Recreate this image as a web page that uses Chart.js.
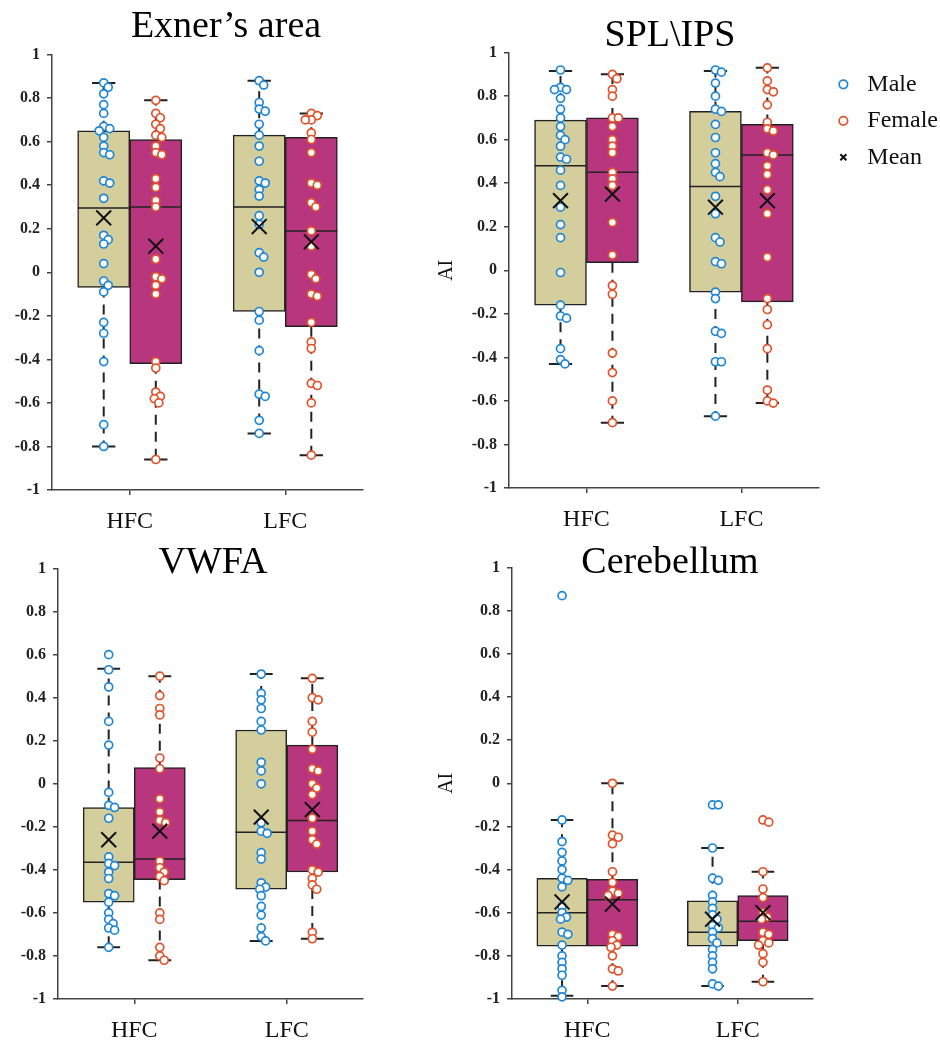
<!DOCTYPE html>
<html>
<head>
<meta charset="utf-8">
<script src="https://cdn.jsdelivr.net/npm/chart.js@4.4.1/dist/chart.umd.min.js"></script>
<style>
  html, body { margin: 0; padding: 0; background: #fff; width: 940px; height: 1046px; overflow: hidden; }
  .panel { position: absolute; }
</style>
</head>
<body>
<div class="panel" style="left:0;top:0;width:452px;height:540px"><canvas id="exner"></canvas></div>
<div class="panel" style="left:392px;top:0;width:556px;height:540px"><canvas id="spl"></canvas></div>
<div class="panel" style="left:0;top:520px;width:426px;height:526px"><canvas id="vwfa"></canvas></div>
<div class="panel" style="left:392px;top:520px;width:556px;height:526px"><canvas id="cere"></canvas></div>
<script>
const groups = ["HFC", "LFC"];
const yTicks = [-1, -0.8, -0.6, -0.4, -0.2, 0, 0.2, 0.4, 0.6, 0.8, 1];
const legendNames = ["Male", "Female", "Mean"];

// box stats per group: [lower whisker, q1, median, q3, upper whisker, mean]

// Exner's area
const exnerMaleHFC = [0.87, 0.85, 0.82, 0.77, 0.73, 0.67, 0.66, 0.65, 0.62, 0.58, 0.55, 0.54, 0.42, 0.41, 0.34, 0.17, 0.15, 0.13, 0.04, -0.04, -0.06, -0.09, -0.23, -0.28, -0.41, -0.70, -0.80];
const exnerFemaleHFC = [0.79, 0.73, 0.71, 0.68, 0.66, 0.63, 0.62, 0.58, 0.55, 0.54, 0.43, 0.39, 0.33, 0.30, 0.06, -0.02, -0.03, -0.06, -0.10, -0.41, -0.44, -0.55, -0.57, -0.58, -0.60, -0.86];
const exnerMaleLFC = [0.88, 0.86, 0.78, 0.75, 0.74, 0.68, 0.63, 0.58, 0.51, 0.42, 0.41, 0.38, 0.35, 0.26, 0.22, 0.09, 0.07, 0.00, -0.18, -0.22, -0.36, -0.56, -0.57, -0.68, -0.74];
const exnerFemaleLFC = [0.73, 0.72, 0.70, 0.70, 0.64, 0.61, 0.55, 0.41, 0.40, 0.32, 0.30, 0.19, 0.12, -0.01, -0.03, -0.10, -0.11, -0.23, -0.32, -0.35, -0.51, -0.52, -0.60, -0.84];
const exnerMaleStats = [[-0.80, -0.07, 0.295, 0.65, 0.87, 0.25], [-0.74, -0.18, 0.30, 0.63, 0.88, 0.21]];
const exnerFemaleStats = [[-0.86, -0.42, 0.30, 0.61, 0.79, 0.12], [-0.84, -0.25, 0.19, 0.62, 0.73, 0.14]];

// SPL\IPS
const splMaleHFC = [0.92, 0.84, 0.83, 0.83, 0.79, 0.74, 0.70, 0.66, 0.62, 0.60, 0.57, 0.52, 0.51, 0.46, 0.39, 0.29, 0.21, 0.15, -0.01, -0.16, -0.21, -0.22, -0.36, -0.41, -0.43];
const splFemaleHFC = [0.90, 0.88, 0.83, 0.80, 0.70, 0.70, 0.66, 0.60, 0.57, 0.54, 0.45, 0.42, 0.39, 0.22, 0.07, -0.07, -0.11, -0.38, -0.47, -0.60, -0.70];
const splMaleLFC = [0.92, 0.91, 0.86, 0.80, 0.74, 0.73, 0.67, 0.61, 0.54, 0.49, 0.45, 0.43, 0.34, 0.26, 0.15, 0.13, 0.04, 0.03, -0.10, -0.13, -0.28, -0.29, -0.42, -0.42, -0.67];
const splFemaleLFC = [0.93, 0.87, 0.83, 0.82, 0.76, 0.68, 0.65, 0.64, 0.54, 0.53, 0.48, 0.44, 0.37, 0.26, 0.06, -0.13, -0.18, -0.25, -0.36, -0.55, -0.60, -0.61];
const splMaleStats = [[-0.43, -0.16, 0.48, 0.69, 0.915, 0.32], [-0.67, -0.10, 0.385, 0.73, 0.915, 0.29]];
const splFemaleStats = [[-0.70, 0.035, 0.45, 0.70, 0.90, 0.35], [-0.61, -0.145, 0.53, 0.67, 0.93, 0.32]];

// VWFA
const vwfaMaleHFC = [0.60, 0.53, 0.45, 0.29, 0.18, -0.04, -0.10, -0.11, -0.16, -0.34, -0.37, -0.38, -0.41, -0.44, -0.51, -0.52, -0.55, -0.60, -0.63, -0.65, -0.67, -0.68, -0.76];
const vwfaFemaleHFC = [0.50, 0.41, 0.35, 0.32, 0.12, 0.07, -0.07, -0.13, -0.17, -0.18, -0.36, -0.39, -0.41, -0.43, -0.45, -0.60, -0.63, -0.76, -0.80, -0.82];
const vwfaMaleLFC = [0.51, 0.42, 0.39, 0.35, 0.29, 0.25, 0.10, 0.06, 0.00, -0.18, -0.22, -0.23, -0.32, -0.35, -0.46, -0.48, -0.49, -0.52, -0.57, -0.61, -0.67, -0.71, -0.73];
const vwfaFemaleLFC = [0.49, 0.40, 0.39, 0.29, 0.24, 0.16, 0.07, 0.06, 0.00, -0.02, -0.05, -0.16, -0.22, -0.26, -0.28, -0.40, -0.41, -0.44, -0.47, -0.49, -0.69, -0.72];
const vwfaMaleStats = [[-0.76, -0.55, -0.365, -0.11, 0.535, -0.26], [-0.73, -0.49, -0.225, 0.25, 0.51, -0.155]];
const vwfaFemaleStats = [[-0.82, -0.445, -0.35, 0.075, 0.50, -0.22], [-0.72, -0.41, -0.17, 0.18, 0.49, -0.12]];

// Cerebellum
const cereMaleHFC = [0.87, -0.17, -0.27, -0.32, -0.36, -0.40, -0.44, -0.45, -0.48, -0.57, -0.60, -0.62, -0.63, -0.69, -0.70, -0.75, -0.80, -0.83, -0.86, -0.89, -0.96, -0.99];
const cereFemaleHFC = [0.00, -0.24, -0.25, -0.28, -0.41, -0.46, -0.50, -0.51, -0.52, -0.70, -0.71, -0.73, -0.75, -0.76, -0.80, -0.86, -0.87, -0.94];
const cereMaleLFC = [-0.10, -0.10, -0.30, -0.44, -0.45, -0.52, -0.55, -0.58, -0.61, -0.63, -0.66, -0.67, -0.69, -0.72, -0.74, -0.77, -0.80, -0.83, -0.86, -0.93, -0.94];
const cereFemaleLFC = [-0.17, -0.18, -0.41, -0.49, -0.53, -0.60, -0.62, -0.63, -0.69, -0.70, -0.73, -0.74, -0.75, -0.79, -0.83, -0.92];
const cereMaleStats = [[-0.985, -0.755, -0.60, -0.44, -0.17, -0.55], [-0.94, -0.755, -0.69, -0.545, -0.30, -0.63]];
const cereFemaleStats = [[-0.94, -0.755, -0.54, -0.445, 0.0, -0.56], [-0.92, -0.73, -0.64, -0.52, -0.41, -0.60]];

const SERIF = "'Liberation Serif', 'Times New Roman', serif";
const INK = "#222";
const AXIS = "#444";
const MALE = "#1f86d6";
const FEMALE = "#e0522b";
const MALE_BOX = "#d4cd9c";
const FEMALE_BOX = "#b8367e";

const BOX_HALF = 0.1675; // half a box width, in x2 units
const CAP = 0.075;
const PX_X = 155, PX_Y = 216, MIN_D = 6; // rough px per unit, for spreading points

// spread near-equal values sideways so the circles don't pile up
function swarm(values, center) {
  const placed = [];
  const offsets = [0];
  for (let i = 1; i <= 20; i++) offsets.push(i * 1.5, -i * 1.5);
  return values.slice().sort((a, b) => b - a).map((v) => {
    const py = v * PX_Y;
    const off = offsets.find((o) => placed.every((p) => (p.x - o) ** 2 + (p.y - py) ** 2 >= MIN_D * MIN_D));
    placed.push({ x: off, y: py });
    return { x: center + off / PX_X, y: v };
  });
}

function segments(stats, centers, pick) {
  const out = [];
  stats.forEach((s, i) => pick(s, centers[i]).forEach((seg) => {
    out.push(seg[0], seg[1], { x: seg[1].x, y: null });
  }));
  return out;
}

function makePanel(id, o) {
  const mc = [1 - BOX_HALF, 2 - BOX_HALF];
  const fc = [1 + BOX_HALF, 2 + BOX_HALF];
  const whisk = (s, c) => [[{ x: c, y: s[3] }, { x: c, y: s[4] }], [{ x: c, y: s[1] }, { x: c, y: s[0] }]];
  const caps = (s, c) => [[{ x: c - CAP, y: s[4] }, { x: c + CAP, y: s[4] }], [{ x: c - CAP, y: s[0] }, { x: c + CAP, y: s[0] }]];
  const med = (s, c) => [[{ x: c - BOX_HALF, y: s[2] }, { x: c + BOX_HALF, y: s[2] }]];
  const lineDs = (label, data, extra) => Object.assign({
    type: "line", label, data, xAxisID: "x2", borderColor: INK, borderWidth: 2,
    pointRadius: 0, spanGaps: false, fill: false, clip: false
  }, extra);
  const boxDs = (label, stats, centers, color) => ({
    label, xAxisID: "x2", grouped: false, categoryPercentage: 1, barPercentage: 1,
    data: stats.map((s, i) => ({ x: centers[i], y: [s[1], s[3]] })),
    backgroundColor: color, borderColor: INK, borderWidth: 1.5, borderSkipped: false, order: 10
  });

  new Chart(document.getElementById(id), {
    type: "bar",
    data: {
      labels: groups,
      datasets: [
        boxDs("Male box", o.maleStats, mc, MALE_BOX),
        boxDs("Female box", o.femaleStats, fc, FEMALE_BOX),
        lineDs("whiskers", segments(o.maleStats, mc, whisk).concat(segments(o.femaleStats, fc, whisk)), { borderDash: [10, 7], order: 9 }),
        lineDs("caps", segments(o.maleStats, mc, caps).concat(segments(o.femaleStats, fc, caps)), { order: 8 }),
        lineDs("medians", segments(o.maleStats, mc, med).concat(segments(o.femaleStats, fc, med)), { borderWidth: 1.5, order: 7 }),
        {
          type: "scatter", label: "Male", xAxisID: "x2", clip: false, order: 3,
          data: swarm(o.male[0], mc[0]).concat(swarm(o.male[1], mc[1])),
          pointRadius: 4, pointBorderWidth: 1.7, borderColor: MALE, backgroundColor: "#fff", borderWidth: 1.7
        },
        {
          type: "scatter", label: "Female", xAxisID: "x2", clip: false, order: 3,
          data: swarm(o.female[0], fc[0]).concat(swarm(o.female[1], fc[1])),
          pointRadius: 4, pointBorderWidth: 1.7, borderColor: FEMALE, backgroundColor: "#fff", borderWidth: 1.7
        },
        {
          type: "scatter", label: "Mean", xAxisID: "x2", clip: false, order: 1,
          data: o.maleStats.map((s, i) => ({ x: mc[i], y: s[5] })).concat(o.femaleStats.map((s, i) => ({ x: fc[i], y: s[5] }))),
          pointStyle: "crossRot", pointRadius: 10.5, borderColor: "#111", borderWidth: 2, backgroundColor: "#111"
        }
      ]
    },
    options: {
      responsive: true,
      maintainAspectRatio: false,
      animation: false,
      layout: { padding: 0 },
      plugins: {
        title: {
          display: true, text: o.title, color: "#000",
          font: { family: SERIF, size: 38, weight: "normal", lineHeight: 1.2 },
          padding: o.titlePad
        },
        legend: {
          display: !!o.legend,
          position: "right",
          align: "start",
          fullSize: false,
          title: { display: true, text: "", font: { size: 6, lineHeight: 1.2 }, padding: 0 },
          labels: {
            usePointStyle: true, boxWidth: 24, boxHeight: 6, padding: 12.5, color: "#111",
            font: { family: SERIF, size: 24 },
            filter: (item) => legendNames.includes(item.text),
            sort: (a, b) => legendNames.indexOf(a.text) - legendNames.indexOf(b.text)
          }
        },
        tooltip: { enabled: false }
      },
      scales: {
        x: {
          type: "category",
          offset: true,
          grid: { offset: false, drawOnChartArea: false, tickLength: 5, color: AXIS, lineWidth: 1.5 },
          border: { color: AXIS, width: 1.5 },
          ticks: { color: "#111", padding: 12, font: { family: SERIF, size: 24 } },
          afterFit: (s) => { s.height = o.xh; }
        },
        x2: {
          type: "linear", display: false, offset: false, min: 0.5, max: 2.5,
          afterBuildTicks: (s) => { s.ticks = [{ value: 1 }, { value: 2 }]; }
        },
        y: {
          min: -1,
          max: 1,
          afterBuildTicks: (s) => { s.ticks = yTicks.map((v) => ({ value: v })); },
          grid: { drawOnChartArea: false, tickLength: 5, color: AXIS, lineWidth: 1.5 },
          border: { color: AXIS, width: 1.5 },
          ticks: {
            color: INK, padding: 7,
            font: { family: SERIF, size: 16, weight: "bold" },
            callback: (v) => String(Math.round(v * 10) / 10)
          },
          title: {
            display: !!o.yTitle, text: "AI", color: "#111",
            font: { family: SERIF, size: 20 }, padding: { top: 43, bottom: 0 }
          },
          afterFit: (s) => { s.width = o.yw; }
        },
        // empty right-hand gap so the title centres over the whole panel
        gap: {
          axis: "y", position: "right", display: o.gap > 0,
          grid: { display: false }, border: { display: false }, ticks: { display: false },
          afterFit: (s) => { s.width = o.gap; }
        }
      }
    }
  });
}

makePanel("exner", {
  title: "Exner\u2019s area", male: [exnerMaleHFC, exnerMaleLFC], female: [exnerFemaleHFC, exnerFemaleLFC],
  maleStats: exnerMaleStats, femaleStats: exnerFemaleStats,
  yw: 52, xh: 50, gap: 89, titlePad: { top: 4, bottom: 5 }
});
makePanel("spl", {
  title: "SPL\\IPS", male: [splMaleHFC, splMaleLFC], female: [splFemaleHFC, splFemaleLFC],
  maleStats: splMaleStats, femaleStats: splFemaleStats,
  yw: 117, xh: 52, gap: 0, titlePad: { top: 13, bottom: -6 }, yTitle: true, legend: true
});
makePanel("vwfa", {
  title: "VWFA", male: [vwfaMaleHFC, vwfaMaleLFC], female: [vwfaFemaleHFC, vwfaFemaleLFC],
  maleStats: vwfaMaleStats, femaleStats: vwfaFemaleStats,
  yw: 58, xh: 47, gap: 63, titlePad: { top: 20, bottom: -17 }
});
makePanel("cere", {
  title: "Cerebellum", male: [cereMaleHFC, cereMaleLFC], female: [cereFemaleHFC, cereFemaleLFC],
  maleStats: cereMaleStats, femaleStats: cereFemaleStats,
  yw: 120, xh: 47, gap: 135, titlePad: { top: 20, bottom: -18 }, yTitle: true
});
</script>
</body>
</html>
